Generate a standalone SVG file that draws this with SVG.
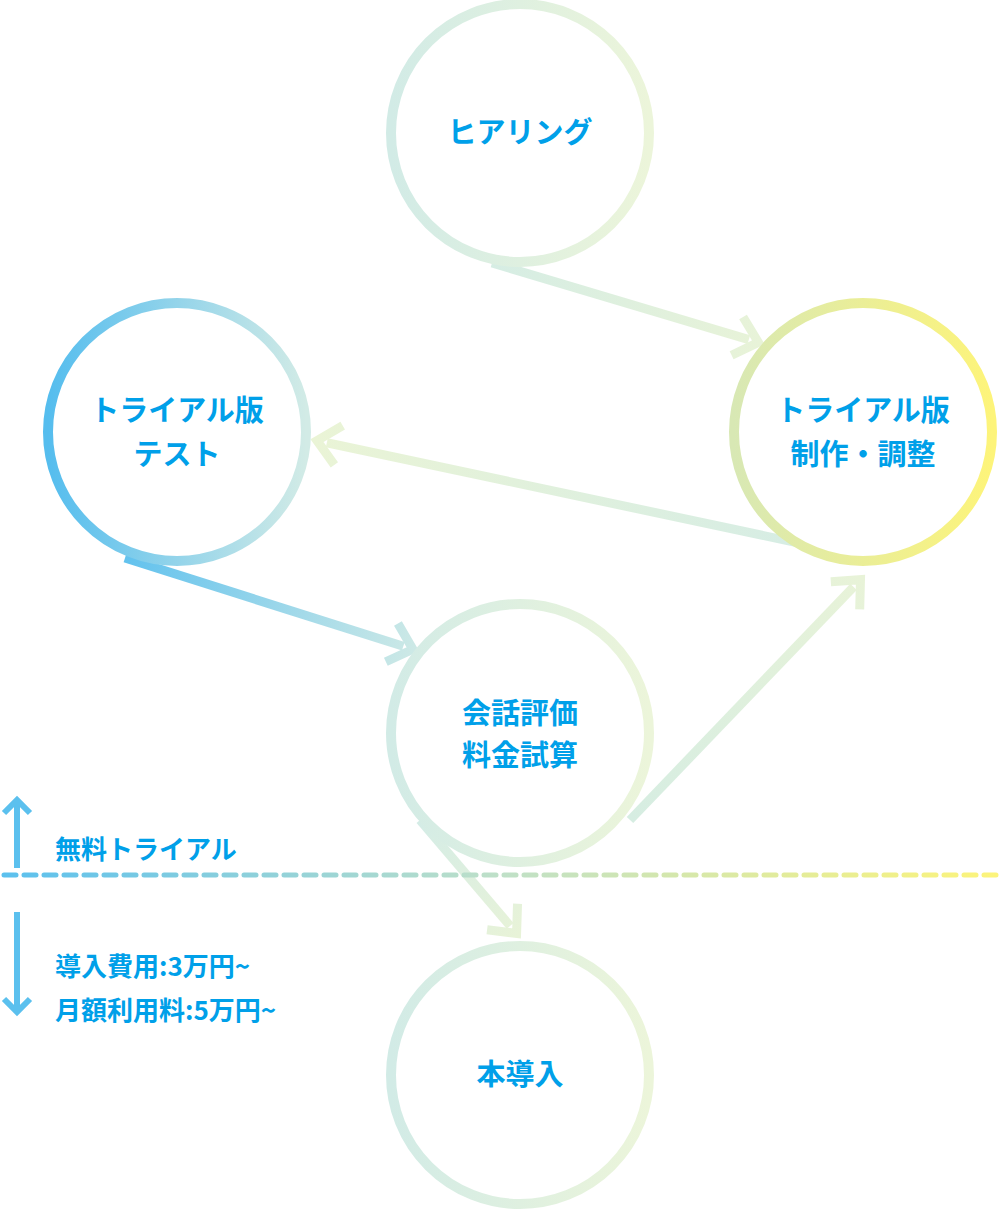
<svg xmlns="http://www.w3.org/2000/svg" width="1000" height="1210" viewBox="0 0 1000 1210">
<defs>
<linearGradient id="gN" x1="0" x2="1" y1="0" y2="0"><stop offset="0" stop-color="#d2ebe6"/><stop offset="1" stop-color="#ecf5da"/></linearGradient>
<linearGradient id="gT" x1="0" x2="1"><stop offset="0" stop-color="#55bdee"/><stop offset="1" stop-color="#d2ebe6"/></linearGradient>
<linearGradient id="gY" x1="0" x2="1"><stop offset="0" stop-color="#d8e8b4"/><stop offset="1" stop-color="#fdf47a"/></linearGradient>
<linearGradient id="gD" x1="0" x2="1000" y1="0" y2="0" gradientUnits="userSpaceOnUse"><stop offset="0" stop-color="#5bc0ee"/><stop offset="0.5" stop-color="#bfe0c8"/><stop offset="1" stop-color="#fdf47a"/></linearGradient>
<linearGradient id="a1" x1="0" x2="280" gradientUnits="userSpaceOnUse"><stop offset="0" stop-color="#d6ede4"/><stop offset="1" stop-color="#e8f3d8"/></linearGradient>
<linearGradient id="a2" x1="0" x2="552" gradientUnits="userSpaceOnUse"><stop offset="0" stop-color="#d4ece6"/><stop offset="1" stop-color="#eaf4d6"/></linearGradient>
<linearGradient id="a3" x1="0" x2="304" gradientUnits="userSpaceOnUse"><stop offset="0" stop-color="#62c2ee"/><stop offset="1" stop-color="#cde9e6"/></linearGradient>
<linearGradient id="a4" x1="0" x2="335" gradientUnits="userSpaceOnUse"><stop offset="0" stop-color="#d6ede2"/><stop offset="1" stop-color="#e8f3d8"/></linearGradient>
<linearGradient id="a5" x1="0" x2="151" gradientUnits="userSpaceOnUse"><stop offset="0" stop-color="#d4ece6"/><stop offset="1" stop-color="#e8f3d8"/></linearGradient>
</defs>
<style>
.c{fill:#fff;stroke-width:10}
.t{font-family:"Noto Sans CJK JP","Noto Sans",sans-serif;font-weight:bold;font-size:29px;fill:#00a0e9;text-anchor:middle}
.s{font-family:"Noto Sans CJK JP","Noto Sans",sans-serif;font-weight:bold;font-size:26px;fill:#00a0e9}
.a{fill:none;stroke-width:9;stroke-linejoin:miter}
</style>
<g id="connectors">
<g transform="translate(492,263) rotate(16.6)"><line x1="0" y1="0" x2="268" y2="0" class="a" stroke="url(#a1)"/><polyline points="256,-20 278,0 256,20" class="a" stroke="url(#a1)"/></g>
<g transform="translate(855,555) rotate(192)"><line x1="0" y1="0" x2="540" y2="0" class="a" stroke="url(#a2)"/><polyline points="528,-20 550,0 528,20" class="a" stroke="url(#a2)"/></g>
<g transform="translate(125,558) rotate(17.6)"><line x1="0" y1="0" x2="292" y2="0" class="a" stroke="url(#a3)"/><polyline points="280,-20 302,0 280,20" class="a" stroke="url(#a3)"/></g>
<g transform="translate(630,820) rotate(-46.2)"><line x1="0" y1="0" x2="323" y2="0" class="a" stroke="url(#a4)"/><polyline points="311,-20 333,0 311,20" class="a" stroke="url(#a4)"/></g>
<g transform="translate(420,820) rotate(49.6)"><line x1="0" y1="0" x2="139" y2="0" class="a" stroke="url(#a5)"/><polyline points="127,-20 149,0 127,20" class="a" stroke="url(#a5)"/></g>
</g>
<g id="hearing"><circle cx="520" cy="133" r="129" class="c" stroke="url(#gN)"/><text x="520" y="143" class="t">ヒアリング</text></g>
<g id="test"><circle cx="177" cy="432" r="129" class="c" stroke="url(#gT)"/><text x="177" y="421" class="t">トライアル版</text><text x="177" y="465" class="t">テスト</text></g>
<g id="make"><circle cx="863" cy="432" r="129" class="c" stroke="url(#gY)"/><text x="863" y="421" class="t">トライアル版</text><text x="863" y="465" class="t">制作・調整</text></g>
<g id="eval"><circle cx="520" cy="733" r="129" class="c" stroke="url(#gN)"/><text x="520" y="724" class="t">会話評価</text><text x="520" y="766" class="t">料金試算</text></g>
<g id="final"><circle cx="520" cy="1075" r="129" class="c" stroke="url(#gN)"/><text x="520" y="1085" class="t">本導入</text></g>
<g id="divider">
<line x1="4" y1="875" x2="1000" y2="875" stroke="url(#gD)" stroke-width="5" stroke-dasharray="12,8" stroke-linecap="round"/>
<g stroke="#5bc0ee" stroke-width="6" fill="none"><line x1="17" y1="800" x2="17" y2="868"/><polyline points="4,813 17,800 30,813"/><line x1="17" y1="912" x2="17" y2="1012"/><polyline points="4,999 17,1012 30,999"/></g>
<text x="55" y="859" class="s">無料トライアル</text>
<text x="55" y="976" class="s">導入費用:3万円~</text>
<text x="55" y="1020" class="s">月額利用料:5万円~</text>
</g>
</svg>
